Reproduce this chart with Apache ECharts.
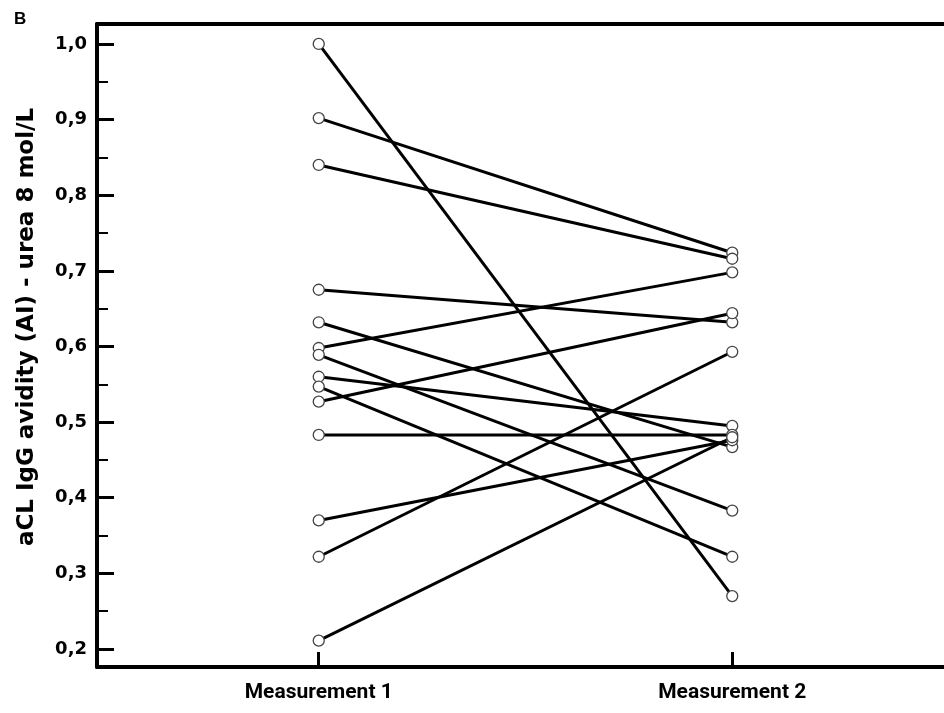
<!DOCTYPE html>
<html>
<head>
<meta charset="utf-8">
<script src="https://cdn.jsdelivr.net/npm/echarts@6/dist/echarts.min.js"></script>
<style>
html,body{margin:0;padding:0;background:#fff;}
#chart{width:944px;height:713px;}
</style>
</head>
<body>
<div id="chart"></div>
<script>
const categories = ['Measurement 1', 'Measurement 2'];
const categoryPositions = [1, 2];
const measurement1 = [1.000, 0.902, 0.840, 0.675, 0.632, 0.598, 0.589, 0.560, 0.547, 0.527, 0.483, 0.370, 0.322, 0.211];
const measurement2 = [0.270, 0.724, 0.716, 0.632, 0.467, 0.698, 0.383, 0.495, 0.322, 0.644, 0.483, 0.476, 0.593, 0.480];
const yTickValues = [0.2, 0.3, 0.4, 0.5, 0.6, 0.7, 0.8, 0.9, 1.0];
const yTickLabels = ['0,2', '0,3', '0,4', '0,5', '0,6', '0,7', '0,8', '0,9', '1,0'];
const yMinorTickValues = [0.25, 0.35, 0.45, 0.55, 0.65, 0.75, 0.85, 0.95];
const yAxisTitle = 'aCL IgG avidity (AI) - urea 8 mol/L';
const panelLabel = 'B';

const Y_MIN = 0.1762, Y_MAX = 1.0264;
const X_MIN = 0.46377, X_MAX = 2.51208;

const chart = echarts.init(document.getElementById('chart'), null, {renderer: 'canvas'});

const lineSeries = measurement1.map((v, i) => ({
  type: 'line',
  data: [[categoryPositions[0], v], [categoryPositions[1], measurement2[i]]],
  showSymbol: false,
  symbol: 'none',
  lineStyle: {color: '#000', width: 3},
  silent: true,
  z: 2
}));

const points = [];
measurement1.forEach((v, i) => {
  points.push([categoryPositions[0], v]);
  points.push([categoryPositions[1], measurement2[i]]);
});

const frameLine = {show: true, onZero: false, lineStyle: {color: '#000', width: 4}};

const option = {
  animation: false,
  backgroundColor: '#fff',
  title: {
    text: panelLabel, left: 9, top: 6,
    textStyle: {fontFamily: 'Liberation Sans, Arial, sans-serif', fontWeight: 'bold', fontSize: 17, color: '#000'}
  },
  grid: {
    left: 97, top: 24, right: 0, bottom: 46,
    show: false
  },
  xAxis: [{
    type: 'value', min: X_MIN, max: X_MAX, position: 'bottom',
    axisLine: frameLine,
    splitLine: {show: false},
    axisTick: {show: true, inside: true, length: 15, lineStyle: {color: '#000', width: 3}, customValues: categoryPositions},
    axisLabel: {
      show: true, margin: 15, customValues: categoryPositions,
      formatter: v => categories[categoryPositions.indexOf(Math.round(v))] || '',
      fontFamily: "Roboto, sans-serif",
      fontWeight: 'bold', fontSize: 21, color: '#000'
    }
  }, {
    type: 'value', min: X_MIN, max: X_MAX, position: 'top',
    axisLine: frameLine,
    splitLine: {show: false},
    axisTick: {show: false},
    axisLabel: {show: false}
  }],
  yAxis: [{
    type: 'value', min: Y_MIN, max: Y_MAX, position: 'left',
    axisLine: frameLine,
    splitLine: {show: false},
    axisTick: {show: true, inside: true, length: 17, lineStyle: {color: '#000', width: 3}, customValues: yTickValues},
    axisLabel: {
      show: true, margin: 10, customValues: yTickValues,
      formatter: v => yTickLabels[yTickValues.findIndex(t => Math.abs(t - v) < 1e-6)] || '',
      fontFamily: "'DejaVu Sans', sans-serif", fontWeight: 'bold', fontSize: 18, color: '#000'
    }
  }, {
    type: 'value', min: Y_MIN, max: Y_MAX, position: 'left', offset: 0,
    axisLine: {show: false},
    splitLine: {show: false},
    axisTick: {show: true, inside: true, length: 11, lineStyle: {color: '#000', width: 2}, customValues: yMinorTickValues},
    axisLabel: {show: false}
  }],
  graphic: [{
    type: 'text',
    x: 27, y: 327,
    rotation: Math.PI / 2,
    style: {
      text: yAxisTitle,
      fontFamily: "'DejaVu Sans', sans-serif", fontWeight: 'bold', fontSize: 23,
      fill: '#000', align: 'center', verticalAlign: 'middle'
    }
  }],
  series: lineSeries.concat([{
    type: 'scatter',
    data: points,
    symbol: 'circle',
    symbolSize: 11,
    itemStyle: {color: '#fff', borderColor: '#444', borderWidth: 1.3, opacity: 1},
    silent: true,
    z: 5
  }])
};
chart.setOption(option);
</script>
</body>
</html>
